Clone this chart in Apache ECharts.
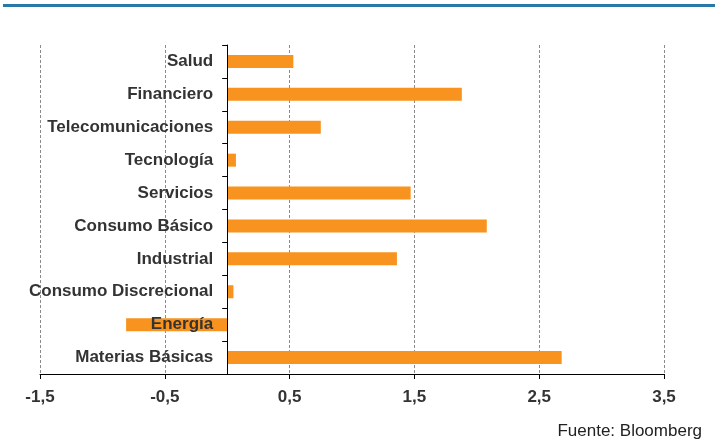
<!DOCTYPE html>
<html>
<head>
<meta charset="utf-8">
<script src="https://cdn.jsdelivr.net/npm/echarts@6/dist/echarts.min.js"></script>
<style>
  html, body { margin: 0; padding: 0; background: #ffffff; }
  #chart { width: 717px; height: 442px; }
</style>
</head>
<body>
<div id="chart"></div>
<script>
// Sectors, top to bottom
const sectors = [
  'Salud', 'Financiero', 'Telecomunicaciones', 'Tecnología', 'Servicios',
  'Consumo Básico', 'Industrial', 'Consumo Discrecional', 'Energía', 'Materias Básicas'
];
// Return per sector
const returns = [0.53, 1.88, 0.75, 0.07, 1.47, 2.08, 1.36, 0.05, -0.81, 2.68];
// Value axis range and step
const axisMin = -1.5;
const axisMax = 3.5;
const axisStep = 1;
const sourceNote = 'Fuente: Bloomberg';

const gridLeft = 40;
const gridRight = 53;
const plotWidth = 717 - gridLeft - gridRight;
// Sector names sit just left of the zero line
const zeroX = gridLeft + plotWidth * (0 - axisMin) / (axisMax - axisMin);
const nameGap = 14;

const chart = echarts.init(document.getElementById('chart'), null, { renderer: 'canvas' });

chart.setOption({
  animation: false,
  backgroundColor: '#ffffff',
  grid: { left: gridLeft, right: gridRight, top: 45, bottom: 68, containLabel: false, outerBoundsMode: 'none' },
  graphic: [
    {
      type: 'rect',
      shape: { x: 3, y: 4, width: 712, height: 3 },
      style: { fill: '#2878a8' },
      silent: true
    },
    {
      type: 'text',
      right: 15,
      top: 423,
      style: {
        text: sourceNote,
        font: '17px "Liberation Sans", Arial, sans-serif',
        fill: '#222222'
      }
    }
  ],
  xAxis: {
    type: 'value',
    min: axisMin,
    max: axisMax,
    interval: axisStep,
    axisLine: { show: true, onZero: false, lineStyle: { color: '#000000', width: 1 } },
    axisTick: { show: true, length: 5, lineStyle: { color: '#000000' } },
    axisLabel: {
      margin: 15,
      color: '#333333',
      fontWeight: 'bold',
      fontSize: 17,
      fontFamily: '"Liberation Sans", Arial, sans-serif',
      formatter: v => String(v).replace('.', ',')
    },
    splitLine: { show: true, lineStyle: { color: '#8a8a8a', type: [3, 2], width: 1 } }
  },
  yAxis: {
    type: 'category',
    data: sectors,
    inverse: true,
    z: 10,
    axisLine: { show: true, onZero: true, lineStyle: { color: '#000000', width: 1 } },
    axisTick: { show: true, length: 5, lineStyle: { color: '#000000' } },
    axisLabel: {
      margin: gridLeft - (zeroX - nameGap),
      padding: [3, 0, 0, 0],
      color: '#333333',
      fontWeight: 'bold',
      fontSize: 17,
      fontFamily: '"Liberation Sans", Arial, sans-serif'
    },
    splitLine: { show: false }
  },
  series: [{
    type: 'bar',
    data: returns,
    barWidth: 13,
    itemStyle: { color: '#f7931e' }
  }]
});
</script>
</body>
</html>
